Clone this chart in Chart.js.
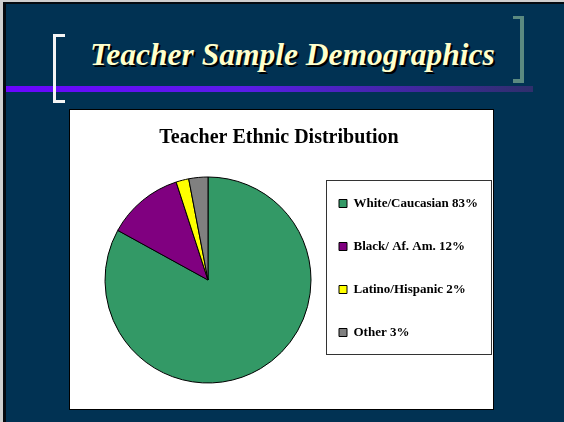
<!DOCTYPE html>
<html>
<head>
<meta charset="utf-8">
<script src="https://cdn.jsdelivr.net/npm/chart.js@4"></script>
<style>
  html, body { margin: 0; padding: 0; }
  body { width: 564px; height: 422px; background: #cfcfcf; position: relative; overflow: hidden; }
  #slide { position: absolute; left: 3px; top: 2px; width: 561px; height: 420px; background: #013253;
           border-left: 3px solid #050a10; border-top: 2px solid #050a10; box-sizing: border-box; }
  #rule { position: absolute; left: 6px; top: 86px; width: 527px; height: 6px;
          background: linear-gradient(to right, #6a06ff 0%, #5a1ce8 45%, #2f2f6c 100%); }
  .brk { position: absolute; box-sizing: border-box; }
  #lb { left: 53px; top: 34px; width: 12px; height: 69px; border: 3px solid #f4f4f4; border-right: none; }
  #rb { left: 513px; top: 16px; width: 11px; height: 67px; border: 4px solid #5b8a80; border-left: none; border-top-width: 3px; }
  #title { position: absolute; left: 90px; top: 39px; font: italic bold 31.5px "Liberation Serif", "Times New Roman", serif;
           line-height: 31px; color: #ffffcc; text-shadow: 2px 2px 0 #000; white-space: nowrap; }
  #box { position: absolute; left: 69px; top: 109px; width: 425px; height: 301px; background: #fff;
         border: 1px solid #000; box-sizing: border-box; }
  #wrap { position: absolute; left: 70px; top: 110px; width: 423px; height: 299px; }
</style>
</head>
<body>
<div id="slide"></div>
<div id="rule"></div>
<div class="brk" id="lb"></div>
<div class="brk" id="rb"></div>
<div id="title">Teacher Sample Demographics</div>
<div id="box"></div>
<div id="wrap"><canvas id="myChart" width="423" height="299"></canvas></div>
<script>
const categories = ['White/Caucasian', 'Black/ Af. Am.', 'Latino/Hispanic', 'Other'];
const percents = [83, 12, 2, 3];
const sliceColors = ['#339966', '#800080', '#ffff00', '#808080'];

const labels = categories.map((c, i) => c + ' ' + percents[i] + '%');

// legend is kept narrow for the layout (so the title stays centred on the box),
// then widened again before drawing so the labels are not clipped.
// also draws the frame round it, like the excel one
const legendFrame = {
    id: 'legendFrame',
    beforeDraw(chart) {
        const lg = chart.legend;
        const boxes = lg.legendHitBoxes;
        if (!boxes || !boxes.length) return;
        const widest = Math.max(...boxes.map(b => b.width));
        lg.right = lg.left + lg.options.labels.padding + widest + 10;
        lg.width = lg.right - lg.left;
    },
    afterDraw(chart) {
        const boxes = chart.legend.legendHitBoxes;
        if (!boxes || !boxes.length) return;
        const ctx = chart.ctx;
        const first = boxes[0];
        const last = boxes[boxes.length - 1];
        const left = first.left - 13;
        const top = first.top + 6.5 - 24;
        const right = left + 165;
        const bottom = last.top + 6.5 + 21;
        ctx.save();
        ctx.strokeStyle = '#333';
        ctx.lineWidth = 1;
        ctx.strokeRect(Math.round(left) + 0.5, Math.round(top) + 0.5, Math.round(right - left), Math.round(bottom - top));
        ctx.restore();
    }
};

new Chart(document.getElementById('myChart'), {
    type: 'pie',
    data: {
        labels: labels,
        datasets: [{
            data: percents,
            backgroundColor: sliceColors,
            borderColor: '#000',
            borderWidth: 1,
            radius: 103
        }]
    },
    options: {
        responsive: false,
        animation: false,
        layout: {
            padding: { left: 37, right: 42, top: 0, bottom: 16 }
        },
        plugins: {
            title: {
                display: true,
                text: 'Teacher Ethnic Distribution',
                color: '#000',
                font: { family: '"Liberation Serif", "Times New Roman", serif', size: 20, weight: 'bold', lineHeight: 1.2 },
                padding: { top: 15.5, bottom: 17.5 }
            },
            legend: {
                position: 'right',
                align: 'start',
                fullSize: false,
                maxWidth: 142,
                labels: {
                    color: '#000',
                    boxWidth: 8,
                    boxHeight: 8,
                    padding: 30,
                    font: { family: '"Liberation Serif", "Times New Roman", serif', size: 13, weight: 'bold' }
                }
            },
            tooltip: { enabled: false }
        }
    },
    plugins: [legendFrame]
});
</script>
</body>
</html>
